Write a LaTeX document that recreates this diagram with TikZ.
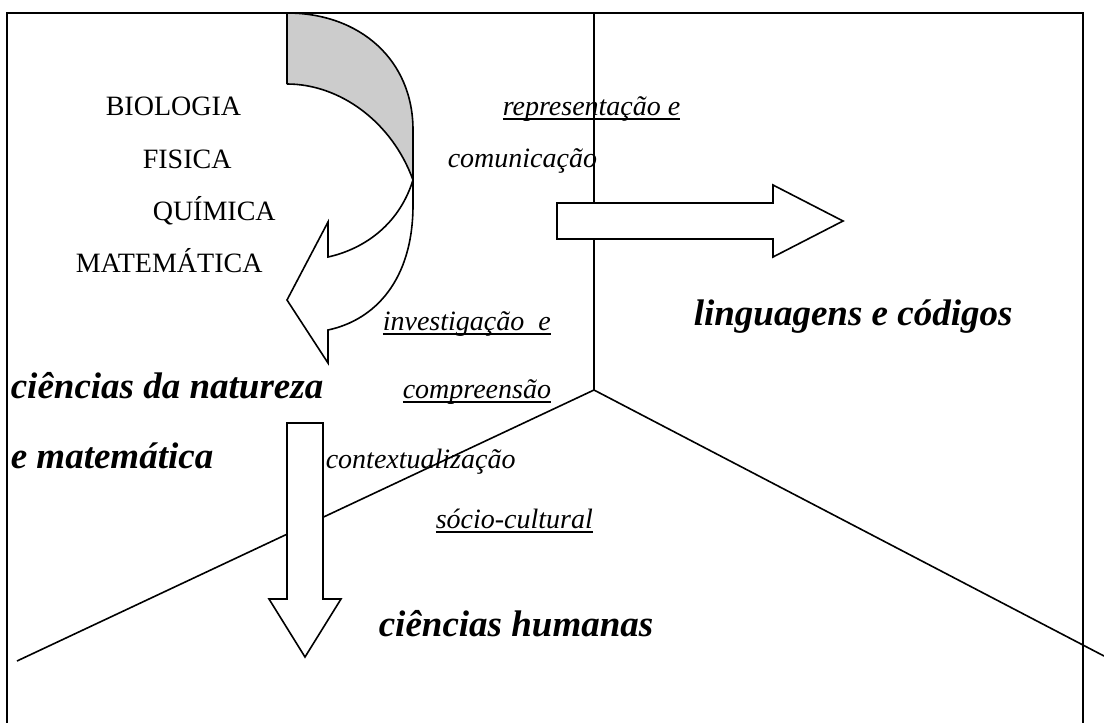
\documentclass[tikz,border=0pt]{standalone}
\usepackage{fontspec}
\setmainfont{Liberation Serif}
\usetikzlibrary{positioning}

% underline at a fixed depth, through the descenders
\newsavebox\ulbox
\newcommand{\ultext}[1]{\sbox\ulbox{#1}\rlap{\rule[-4.6pt]{\wd\ulbox}{1.4pt}}\usebox\ulbox}

\begin{document}
\begin{tikzpicture}[x=1pt, y=-1pt, line width=1.6pt,
    subject/.style={font=\fontsize{28}{32}\selectfont, inner sep=0pt, anchor=base west},
    skill/.style={font=\fontsize{28}{32}\selectfont\itshape, inner sep=0pt, anchor=base west},
    field/.style={font=\fontsize{37}{42}\selectfont\bfseries\itshape, inner sep=0pt, anchor=base west},
    block/.style={draw, fill=white, line join=miter}]
    \useasboundingbox (0,0) rectangle (1104,723);

    % Frame and the three areas
    \coordinate (junction) at (594,390);
    \draw (7,723) -- (7,13) -- (1083,13) -- (1083,723);
    \draw (594,13) -- (junction);
    \draw (junction) -- (17,661);
    \draw (junction) -- (1104,656);

    % Subjects
    \node[subject] (bio) at (105,115) {BIOLOGIA};
    \node[subject] (fis) at (142,168) {FISICA};
    \node[subject] (qui) at (152,220) {QUÍMICA};
    \node[subject] (mat) at (75,272) {MATEMÁTICA};

    % Curved arrow: shaded back face, then the white body
    \fill[gray!40] (287,13) .. controls (360,13) and (413,60) .. (413,130)
        -- (413,180) .. controls (392,122) and (340,84) .. (287,84) -- cycle;
    \draw[line join=miter] (287,84) -- (287,13) .. controls (360,13) and (413,60) .. (413,130)
        -- (413,180);
    \draw (287,84) .. controls (340,84) and (392,122) .. (413,180);
    \draw[block] (413,180) .. controls (398,228) and (360,250) .. (328,257)
        -- (328,222) -- (287,300) -- (328,363) -- (328,330)
        .. controls (375,320) and (413,280) .. (413,205) -- cycle;

    % Straight arrows
    \draw[block] (557,203) -- (773,203) -- (773,185) -- (843,221) -- (773,257)
        -- (773,239) -- (557,239) -- cycle;
    \draw[block] (287,423) -- (323,423) -- (323,599) -- (341,599) -- (305,657)
        -- (269,599) -- (287,599) -- cycle;

    % Competences
    \node[skill] (rep) at (502,115) {\ultext{representação e}};
    \node[skill] (com) at (447,167) {comunicação};
    \node[skill] (inv) at (382,330) {\ultext{investigação\ \ e}};
    \node[skill] (cpr) at (402,398) {\ultext{compreensão}};
    \node[skill] (ctx) at (325,468) {contextualização};
    \node[skill] (soc) at (435,528) {\ultext{sócio-cultural}};

    % Areas
    \node[field] (ling) at (693,325) {linguagens e códigos};
    \node[field] (nat) at (10,398) {ciências da natureza};
    \node[field] (natm) at (10,468) {e matemática};
    \node[field] (hum) at (378,636) {ciências humanas};
\end{tikzpicture}
\end{document}
